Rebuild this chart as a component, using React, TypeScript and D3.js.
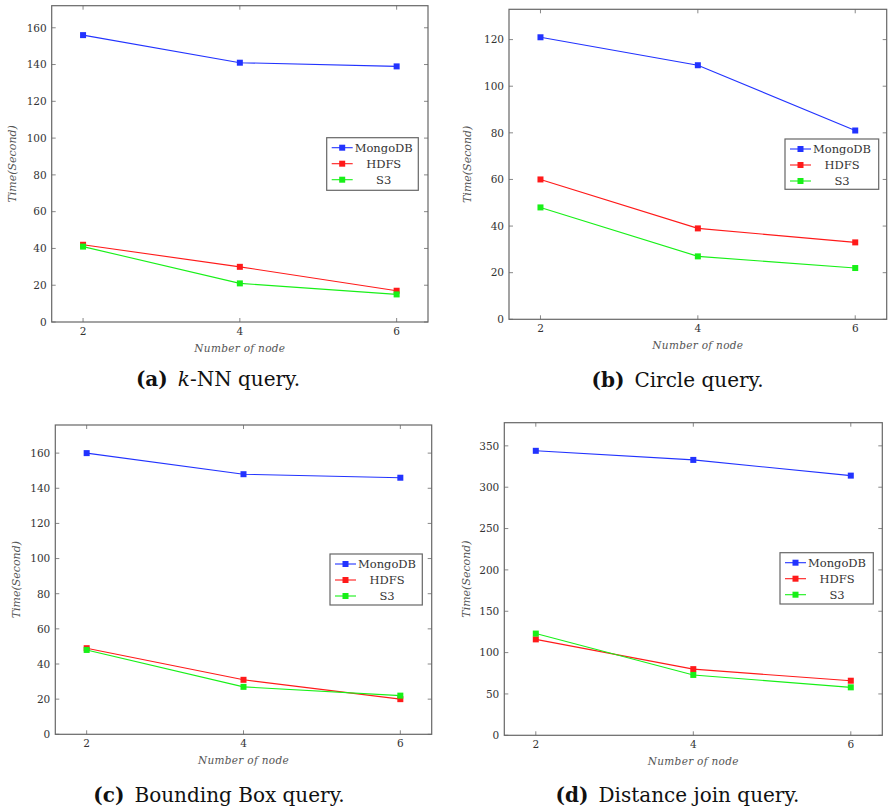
import * as d3 from "d3";
import { useEffect, useRef } from "react";

// number of nodes on the x axis
const nodes = [2, 4, 6];
const seriesNames = ["MongoDB", "HDFS", "S3"];

// (a) k-NN query
const knnMongo = [156, 141, 139];
const knnHdfs = [42, 30, 17];
const knnS3 = [41, 21, 15];

// (b) Circle query
const circleMongo = [121, 109, 81];
const circleHdfs = [60, 39, 33];
const circleS3 = [48, 27, 22];

// (c) Bounding Box query
const boxMongo = [160, 148, 146];
const boxHdfs = [49, 31, 20];
const boxS3 = [48, 27, 22];

// (d) Distance join query
const joinMongo = [344, 333, 314];
const joinHdfs = [116, 80, 66];
const joinS3 = [123, 73, 58];

const ticks160 = [0, 20, 40, 60, 80, 100, 120, 140, 160];
const ticks120 = [0, 20, 40, 60, 80, 100, 120];
const ticks350 = [0, 50, 100, 150, 200, 250, 300, 350];

const colors = ["#2233ff", "#ff1a1a", "#18f018"];
const serif = "'DejaVu Serif', 'Liberation Serif', serif";

type Panel = {
  label: string;
  title: string;
  italicK?: boolean;
  series: number[][];
  yTicks: number[];
  yMax: number;
  box: { l: number; t: number; r: number; b: number };
  legend: { x: number; y: number; w: number; h: number };
  yLabelX: number;
  xLabelY: number;
  capX: number;
  capY: number;
};

const panels: Panel[] = [
  {
    label: "(a)", title: "-NN query.", italicK: true,
    series: [knnMongo, knnHdfs, knnS3], yTicks: ticks160, yMax: 172,
    box: { l: 51.7, t: 5.7, r: 428, b: 322 },
    legend: { x: 326.7, y: 137.7, w: 91.6, h: 52.6 },
    yLabelX: 16, xLabelY: 352, capX: 218, capY: 386,
  },
  {
    label: "(b)", title: "Circle query.",
    series: [circleMongo, circleHdfs, circleS3], yTicks: ticks120, yMax: 133,
    box: { l: 509, t: 9.3, r: 886.7, b: 319.3 },
    legend: { x: 785, y: 139, w: 93.7, h: 50.3 },
    yLabelX: 471, xLabelY: 349, capX: 677.5, capY: 387,
  },
  {
    label: "(c)", title: "Bounding Box query.",
    series: [boxMongo, boxHdfs, boxS3], yTicks: ticks160, yMax: 176,
    box: { l: 55.3, t: 425, r: 431.7, b: 734.3 },
    legend: { x: 330, y: 554, w: 92.3, h: 51 },
    yLabelX: 20, xLabelY: 764, capX: 219, capY: 801.5,
  },
  {
    label: "(d)", title: "Distance join query.",
    series: [joinMongo, joinHdfs, joinS3], yTicks: ticks350, yMax: 378,
    box: { l: 504.3, t: 422.7, r: 882.3, b: 735.3 },
    legend: { x: 780, y: 552.7, w: 93.3, h: 51.3 },
    yLabelX: 470, xLabelY: 765, capX: 677.5, capY: 801.5,
  },
];

const App: React.FC = () => {
  const ref = useRef<SVGSVGElement | null>(null);

  useEffect(() => {
    if (!ref.current) return;
    const svg = d3.select(ref.current);
    svg.selectAll("*").remove();

    panels.forEach((p) => {
      const g = svg.append("g");
      const x = d3.scaleLinear().domain([1.6, 6.4]).range([p.box.l, p.box.r]);
      const y = d3.scaleLinear().domain([0, p.yMax]).range([p.box.b, p.box.t]);

      // inward ticks on all four sides
      const tickLen = 4;
      const tickColor = "#888";
      p.yTicks.forEach((t) => {
        g.append("line").attr("x1", p.box.l).attr("x2", p.box.l + tickLen)
          .attr("y1", y(t)).attr("y2", y(t)).attr("stroke", tickColor);
        g.append("line").attr("x1", p.box.r).attr("x2", p.box.r - tickLen)
          .attr("y1", y(t)).attr("y2", y(t)).attr("stroke", tickColor);
        g.append("text").attr("x", p.box.l - 5).attr("y", y(t) + 3.8)
          .attr("text-anchor", "end").attr("font-family", serif)
          .attr("font-size", 10.5).attr("fill", "#333").text(String(t));
      });
      nodes.forEach((n) => {
        g.append("line").attr("x1", x(n)).attr("x2", x(n))
          .attr("y1", p.box.b).attr("y2", p.box.b - tickLen).attr("stroke", tickColor);
        g.append("line").attr("x1", x(n)).attr("x2", x(n))
          .attr("y1", p.box.t).attr("y2", p.box.t + tickLen).attr("stroke", tickColor);
        g.append("text").attr("x", x(n)).attr("y", p.box.b + 13)
          .attr("text-anchor", "middle").attr("font-family", serif)
          .attr("font-size", 10.5).attr("fill", "#333").text(String(n));
      });

      g.append("rect")
        .attr("x", p.box.l).attr("y", p.box.t)
        .attr("width", p.box.r - p.box.l).attr("height", p.box.b - p.box.t)
        .attr("fill", "none").attr("stroke", "#666").attr("stroke-width", 1.2);

      // series
      const line = d3.line<number>().x((_, i) => x(nodes[i])).y((d) => y(d));
      p.series.forEach((vals, si) => {
        g.append("path").datum(vals).attr("fill", "none")
          .attr("stroke", colors[si]).attr("stroke-width", 1.1).attr("d", line);
        g.selectAll(null).data(vals).enter().append("rect")
          .attr("x", (_, i) => x(nodes[i]) - 3).attr("y", (d) => y(d) - 3)
          .attr("width", 6).attr("height", 6).attr("fill", colors[si]);
      });

      // axis labels
      g.append("text")
        .attr("transform", `translate(${p.yLabelX},${(p.box.t + p.box.b) / 2}) rotate(-90)`)
        .attr("text-anchor", "middle").attr("font-family", serif).attr("font-style", "italic")
        .attr("font-size", 11).attr("fill", "#555").text("Time(Second)");
      g.append("text")
        .attr("x", x(4)).attr("y", p.xLabelY)
        .attr("text-anchor", "middle").attr("font-family", serif).attr("font-style", "italic")
        .attr("font-size", 10.5).attr("letter-spacing", 0.3).attr("fill", "#555")
        .text("Number of node");

      // legend
      const lg = g.append("g").attr("transform", `translate(${p.legend.x},${p.legend.y})`);
      lg.append("rect").attr("width", p.legend.w).attr("height", p.legend.h)
        .attr("fill", "white").attr("stroke", "#666").attr("stroke-width", 1.2);
      seriesNames.forEach((name, si) => {
        const ly = 10 + si * 16;
        lg.append("line").attr("x1", 5).attr("x2", 26).attr("y1", ly).attr("y2", ly)
          .attr("stroke", colors[si]).attr("stroke-width", 1.1);
        lg.append("rect").attr("x", 12.5).attr("y", ly - 3).attr("width", 6).attr("height", 6)
          .attr("fill", colors[si]);
        lg.append("text").attr("x", 57).attr("y", ly + 4).attr("text-anchor", "middle")
          .attr("font-family", serif).attr("font-size", 11.5).attr("fill", "#333").text(name);
      });

      // caption
      const cap = g.append("text").attr("x", p.capX).attr("y", p.capY)
        .attr("text-anchor", "middle").attr("font-family", serif)
        .attr("font-size", 20).attr("fill", "#111");
      cap.append("tspan").attr("font-weight", "bold").text(p.label);
      cap.append("tspan").text("\u2002");
      if (p.italicK) cap.append("tspan").attr("font-style", "italic").text("k");
      cap.append("tspan").text(p.title);
    });
  }, []);

  return (
    <svg
      ref={ref}
      width={888}
      height={810}
      style={{ position: "absolute", left: 0, top: 0, background: "white" }}
    />
  );
};

export default App;
